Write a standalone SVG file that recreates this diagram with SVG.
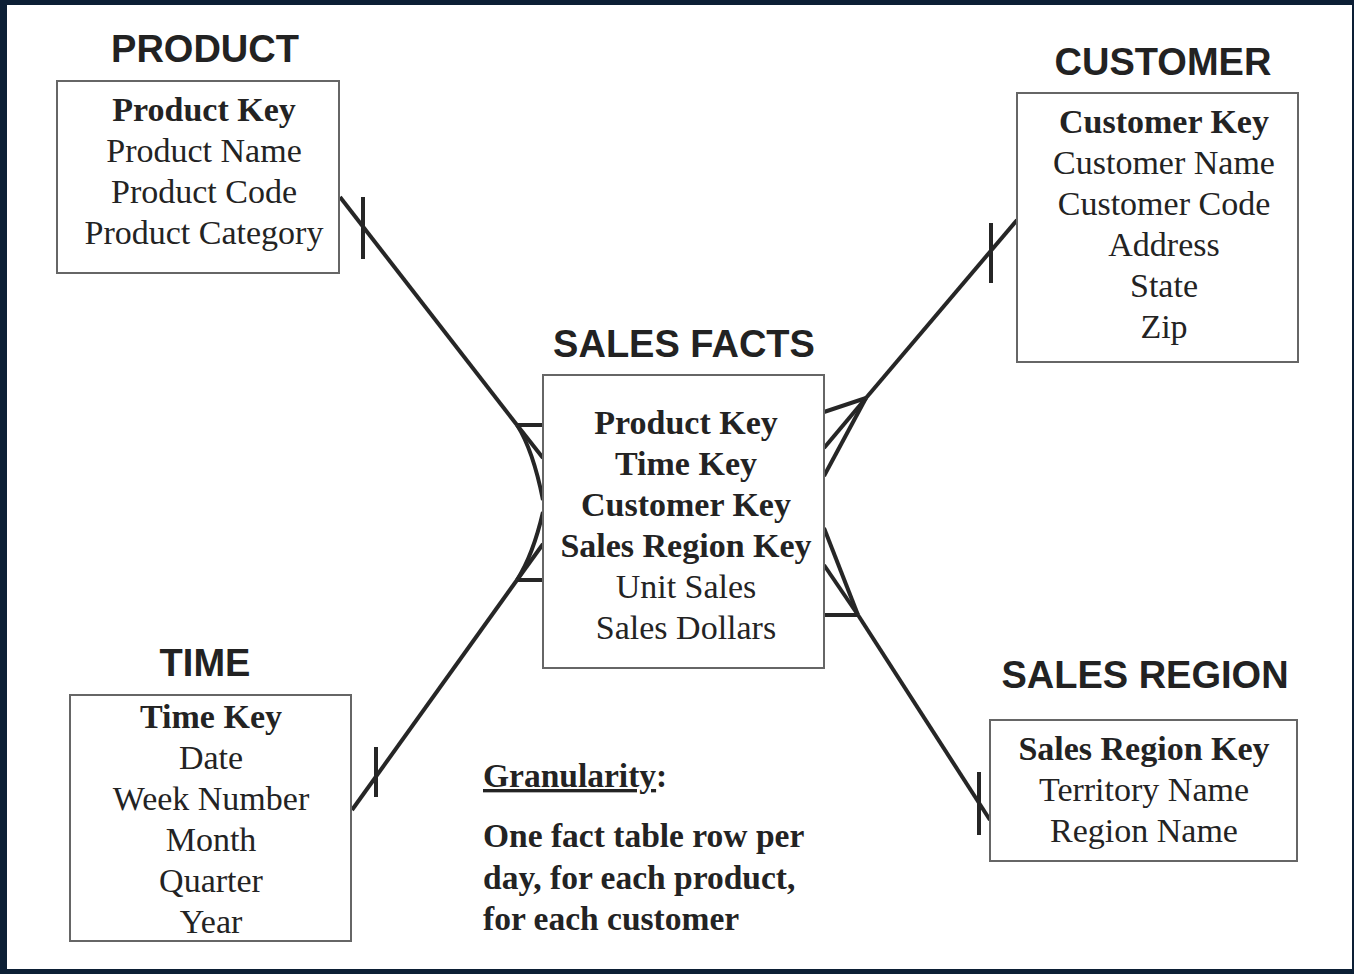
<svg xmlns="http://www.w3.org/2000/svg" width="1354" height="974" viewBox="0 0 1354 974">
<style>
.title{font-family:"Liberation Sans",Arial,sans-serif;font-weight:bold;font-size:38px;fill:#222;text-anchor:middle}
.f{font-family:"Liberation Serif","Times New Roman",serif;font-size:34px;fill:#232323;text-anchor:middle}
.k{font-weight:bold}
.box{fill:#fff;stroke:#666;stroke-width:2}
.conn line,.conn path{stroke:#262626;stroke-width:4;fill:none;stroke-linecap:butt}
.g{font-family:"Liberation Serif","Times New Roman",serif;font-size:33.5px;font-weight:bold;fill:#232323}
</style>
<rect x="0" y="0" width="1354" height="974" fill="#0c1f35"/>
<rect x="7" y="5" width="1345" height="964" fill="#fff"/>

<g id="connectors" class="conn">
  <!-- Product to Sales Facts -->
  <line x1="340" y1="197" x2="517" y2="425"/>
  <line x1="363" y1="197" x2="363" y2="259"/>
  <line x1="517" y1="425" x2="543" y2="425"/>
  <line x1="517" y1="425" x2="543" y2="458"/>
  <path d="M517 425 Q533 450 543 500"/>
  <!-- Time to Sales Facts -->
  <line x1="352" y1="810" x2="517" y2="580"/>
  <line x1="376" y1="747" x2="376" y2="797"/>
  <line x1="517" y1="580" x2="543" y2="580"/>
  <line x1="517" y1="580" x2="543" y2="544"/>
  <path d="M517 580 Q533 555 543 512"/>
  <!-- Customer to Sales Facts -->
  <line x1="1017" y1="220" x2="866" y2="398"/>
  <line x1="991" y1="223" x2="991" y2="283"/>
  <line x1="866" y1="398" x2="824" y2="412"/>
  <line x1="866" y1="398" x2="824" y2="448"/>
  <line x1="866" y1="398" x2="824" y2="476"/>
  <!-- Sales Region to Sales Facts -->
  <line x1="990" y1="820" x2="858" y2="615"/>
  <line x1="979" y1="772" x2="979" y2="835"/>
  <line x1="858" y1="615" x2="824" y2="615"/>
  <line x1="858" y1="615" x2="824" y2="565"/>
  <line x1="858" y1="615" x2="824" y2="528"/>
</g>

<g id="product">
  <text class="title" x="205" y="62">PRODUCT</text>
  <rect class="box" x="57" y="81" width="282" height="192"/>
  <text class="f k" x="204" y="121">Product Key</text>
  <text class="f" x="204" y="162">Product Name</text>
  <text class="f" x="204" y="203">Product Code</text>
  <text class="f" x="204" y="244">Product Category</text>
</g>

<g id="customer">
  <text class="title" x="1163" y="75">CUSTOMER</text>
  <rect class="box" x="1017" y="93" width="281" height="269"/>
  <text class="f k" x="1164" y="133">Customer Key</text>
  <text class="f" x="1164" y="174">Customer Name</text>
  <text class="f" x="1164" y="215">Customer Code</text>
  <text class="f" x="1164" y="256">Address</text>
  <text class="f" x="1164" y="297">State</text>
  <text class="f" x="1164" y="338">Zip</text>
</g>

<g id="sales-facts">
  <text class="title" x="684" y="357">SALES FACTS</text>
  <rect class="box" x="543" y="375" width="281" height="293"/>
  <text class="f k" x="686" y="434">Product Key</text>
  <text class="f k" x="686" y="475">Time Key</text>
  <text class="f k" x="686" y="516">Customer Key</text>
  <text class="f k" x="686" y="557">Sales Region Key</text>
  <text class="f" x="686" y="598">Unit Sales</text>
  <text class="f" x="686" y="639">Sales Dollars</text>
</g>

<g id="time">
  <text class="title" x="205" y="676">TIME</text>
  <rect class="box" x="70" y="695" width="281" height="246"/>
  <text class="f k" x="211" y="728">Time Key</text>
  <text class="f" x="211" y="769">Date</text>
  <text class="f" x="211" y="810">Week Number</text>
  <text class="f" x="211" y="851">Month</text>
  <text class="f" x="211" y="892">Quarter</text>
  <text class="f" x="211" y="933">Year</text>
</g>

<g id="sales-region">
  <text class="title" x="1145" y="688">SALES REGION</text>
  <rect class="box" x="990" y="720" width="307" height="141"/>
  <text class="f k" x="1144" y="760">Sales Region Key</text>
  <text class="f" x="1144" y="801">Territory Name</text>
  <text class="f" x="1144" y="842">Region Name</text>
</g>

<g id="granularity">
  <text class="g" x="483" y="787"><tspan text-decoration="underline">Granularity</tspan>:</text>
  <text class="g" x="483" y="847">One fact table row per</text>
  <text class="g" x="483" y="889">day, for each product,</text>
  <text class="g" x="483" y="930">for each customer</text>
</g>
</svg>
